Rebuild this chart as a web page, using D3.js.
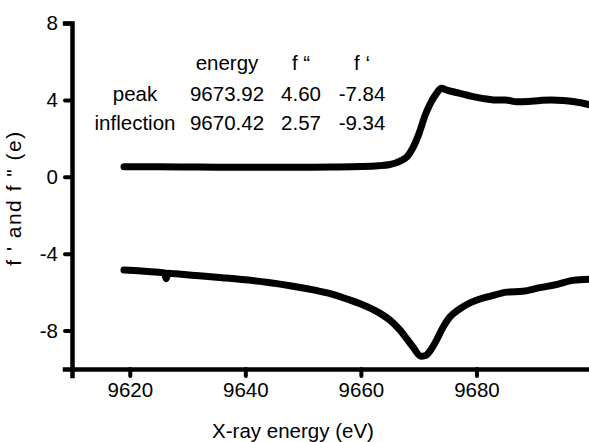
<!DOCTYPE html>
<html>
<head>
<meta charset="utf-8">
<script src="https://cdn.jsdelivr.net/npm/d3@7/dist/d3.min.js"></script>
<style>
	body { margin: 0; background: #fff; }
	svg { display: block; font-family: "Liberation Sans", Arial, sans-serif; }
	.axis text { font-size: 20.5px; fill: #000; font-family: "Liberation Sans", Arial, sans-serif; }
</style>
</head>
<body>
<div id="chart"></div>
<script>
// f'' (upper curve)
var fppEnergy = [9619, 9625, 9630, 9635, 9640, 9645, 9650, 9655, 9660, 9663, 9665, 9666, 9667, 9668, 9669, 9670, 9670.42, 9671, 9672, 9673, 9673.92, 9675, 9677, 9679, 9681, 9683, 9685, 9687, 9689, 9691, 9693, 9695, 9697, 9700];
var fppValues = [0.52, 0.52, 0.51, 0.5, 0.5, 0.5, 0.5, 0.51, 0.53, 0.57, 0.64, 0.72, 0.85, 1.05, 1.5, 2.2, 2.57, 3.1, 3.8, 4.3, 4.6, 4.5, 4.35, 4.2, 4.08, 4.0, 4.0, 3.9, 3.92, 3.97, 4.0, 3.97, 3.9, 3.72];

// f' (lower curve)
var fpEnergy = [9619, 9622, 9625, 9626.0, 9626.3, 9626.6, 9628, 9632, 9636, 9640, 9644, 9648, 9652, 9655, 9658, 9661, 9663, 9665, 9666.7, 9668, 9669, 9670.42, 9671.2, 9672, 9673, 9674, 9675.4, 9677, 9678.5, 9680, 9682.3, 9685.3, 9688, 9691, 9694, 9696.7, 9700];
var fpValues = [-4.85, -4.9, -4.97, -5.0, -5.3, -5.02, -5.05, -5.15, -5.25, -5.36, -5.5, -5.68, -5.9, -6.1, -6.4, -6.75, -7.05, -7.45, -7.95, -8.45, -8.85, -9.34, -9.3, -9.05, -8.55, -7.95, -7.3, -6.9, -6.62, -6.42, -6.22, -6.0, -5.96, -5.77, -5.6, -5.39, -5.33];

var xTicks = [9620, 9640, 9660, 9680];
var yTicks = [8, 4, 0, -4, -8];

// table in the plot
var tableHeaders = ["energy", "f \u201C", "f \u2018"];
var rowLabels = ["peak", "inflection"];
var rowEnergy = ["9673.92", "9670.42"];
var rowFpp = ["4.60", "2.57"];
var rowFp = ["-7.84", "-9.34"];

var width = 589, height = 442;

var svg = d3.select("#chart").append("svg")
	.attr("width", width)
	.attr("height", height);

svg.append("rect").attr("width", width).attr("height", height).attr("fill", "#fff");

var x = d3.scaleLinear().domain([9610, 9700]).range([72, 592]);
var y = d3.scaleLinear().domain([-10, 8]).range([369, 23]);

// plain hyphen for negatives, like the original
var plain = function(d) { return String(d); };

// axes
var yAxis = svg.append("g")
	.attr("class", "axis")
	.attr("transform", "translate(72,0)")
	.call(d3.axisLeft(y).tickValues(yTicks).tickSizeOuter(0).tickSize(7).tickPadding(7).tickFormat(plain));

var xAxis = svg.append("g")
	.attr("class", "axis")
	.attr("transform", "translate(0,369)")
	.call(d3.axisBottom(x).tickValues(xTicks).tickSizeOuter(0).tickSize(7).tickPadding(6).tickFormat(plain));

svg.selectAll(".axis .domain")
	.attr("stroke", "#000")
	.attr("stroke-width", 4.5)
	.attr("stroke-linecap", "square");
svg.selectAll(".axis .tick line")
	.attr("stroke", "#000")
	.attr("stroke-width", 4)
	.attr("stroke-linecap", "round");

// axis titles
svg.append("text")
	.attr("x", 293)
	.attr("y", 438)
	.attr("text-anchor", "middle")
	.style("font-size", "20.5px")
	.text("X-ray energy (eV)");

svg.append("text")
	.attr("transform", "translate(21,198) rotate(-90)")
	.attr("text-anchor", "middle")
	.style("font-size", "21px")
	.style("letter-spacing", "1.5px")
	.text("f ' and f \" (e)");

// curves
var line = d3.line()
	.x(function(d) { return x(d[0]); })
	.y(function(d) { return y(d[1]); })
	.curve(d3.curveMonotoneX);

var fppData = d3.zip(fppEnergy, fppValues);
var fpData = d3.zip(fpEnergy, fpValues);

svg.append("path")
	.datum(fppData)
	.attr("d", line)
	.attr("fill", "none")
	.attr("stroke", "#000")
	.attr("stroke-width", 7)
	.attr("stroke-linecap", "round")
	.attr("stroke-linejoin", "round");

svg.append("path")
	.datum(fpData)
	.attr("d", line)
	.attr("fill", "none")
	.attr("stroke", "#000")
	.attr("stroke-width", 7)
	.attr("stroke-linecap", "round")
	.attr("stroke-linejoin", "round");

// table
var colX = [227, 301, 362];
var labelX = 135;
var rowY = [70, 101, 130];

var table = svg.append("g").style("font-size", "20.5px").attr("text-anchor", "middle");

tableHeaders.forEach(function(h, i) {
	table.append("text").attr("x", colX[i]).attr("y", rowY[0]).text(h);
});

rowLabels.forEach(function(r, i) {
	var yy = rowY[i + 1];
	table.append("text").attr("x", labelX).attr("y", yy).text(r);
	table.append("text").attr("x", colX[0]).attr("y", yy).text(rowEnergy[i]);
	table.append("text").attr("x", colX[1]).attr("y", yy).text(rowFpp[i]);
	table.append("text").attr("x", colX[2]).attr("y", yy).text(rowFp[i]);
});
</script>
</body>
</html>
